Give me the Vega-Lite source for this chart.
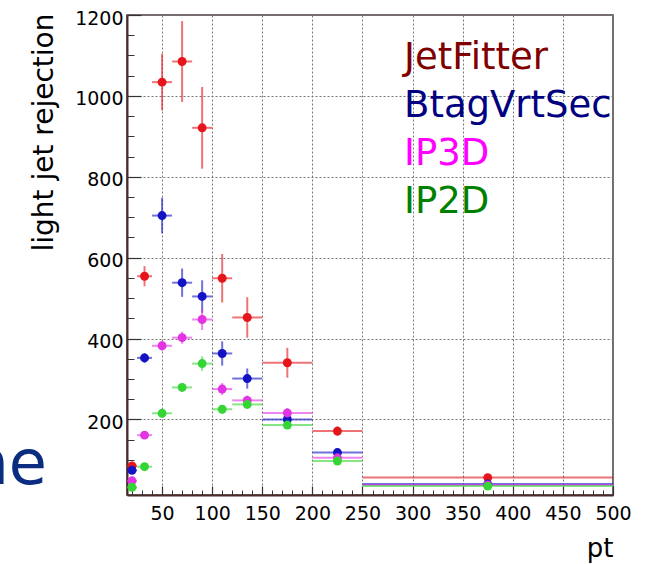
{
  "$schema": "https://vega.github.io/schema/vega-lite/v6.json",
  "width": 486,
  "height": 480,
  "autosize": {"type": "none"},
  "padding": {"left": 127, "top": 15, "right": 32, "bottom": 69},
  "background": "white",
  "config": {
    "view": {"stroke": "#4a3a3a", "strokeWidth": 1.5},
    "font": "DejaVu Sans"
  },
  "title": {
    "text": "ne",
    "orient": "top",
    "anchor": "start",
    "frame": "group",
    "align": "right",
    "baseline": "alphabetic",
    "offset": 0,
    "dx": -80,
    "dy": 537,
    "fontSize": 62,
    "fontWeight": "normal",
    "font": "DejaVu Sans",
    "color": "#0b2d80"
  },
  "data": {
    "values": [
      {"alg": "JetFitter", "pt": 20, "lo": 15, "hi": 25, "y": 85, "yl": 75, "yh": 95},
      {"alg": "JetFitter", "pt": 32.5, "lo": 25, "hi": 40, "y": 554, "yl": 529, "yh": 579},
      {"alg": "JetFitter", "pt": 50, "lo": 40, "hi": 60, "y": 1034, "yl": 964, "yh": 1104},
      {"alg": "JetFitter", "pt": 70, "lo": 60, "hi": 80, "y": 1085, "yl": 985, "yh": 1185},
      {"alg": "JetFitter", "pt": 90, "lo": 80, "hi": 100, "y": 921, "yl": 820, "yh": 1022},
      {"alg": "JetFitter", "pt": 110, "lo": 100, "hi": 120, "y": 549, "yl": 489, "yh": 609},
      {"alg": "JetFitter", "pt": 135, "lo": 120, "hi": 150, "y": 452, "yl": 402, "yh": 502},
      {"alg": "JetFitter", "pt": 175, "lo": 150, "hi": 200, "y": 340, "yl": 303, "yh": 377},
      {"alg": "JetFitter", "pt": 225, "lo": 200, "hi": 250, "y": 171, "yl": 159, "yh": 183},
      {"alg": "JetFitter", "pt": 375, "lo": 250, "hi": 500, "y": 56, "yl": 51, "yh": 61},
      {"alg": "BtagVrtSec", "pt": 20, "lo": 15, "hi": 25, "y": 74, "yl": 66, "yh": 82},
      {"alg": "BtagVrtSec", "pt": 32.5, "lo": 25, "hi": 40, "y": 352, "yl": 340, "yh": 364},
      {"alg": "BtagVrtSec", "pt": 50, "lo": 40, "hi": 60, "y": 704, "yl": 660, "yh": 748},
      {"alg": "BtagVrtSec", "pt": 70, "lo": 60, "hi": 80, "y": 538, "yl": 503, "yh": 573},
      {"alg": "BtagVrtSec", "pt": 90, "lo": 80, "hi": 100, "y": 504, "yl": 464, "yh": 544},
      {"alg": "BtagVrtSec", "pt": 110, "lo": 100, "hi": 120, "y": 363, "yl": 333, "yh": 393},
      {"alg": "BtagVrtSec", "pt": 135, "lo": 120, "hi": 150, "y": 301, "yl": 276, "yh": 326},
      {"alg": "BtagVrtSec", "pt": 175, "lo": 150, "hi": 200, "y": 200, "yl": 188, "yh": 212},
      {"alg": "BtagVrtSec", "pt": 225, "lo": 200, "hi": 250, "y": 118, "yl": 110, "yh": 126},
      {"alg": "BtagVrtSec", "pt": 375, "lo": 250, "hi": 500, "y": 40, "yl": 37, "yh": 43},
      {"alg": "IP3D", "pt": 20, "lo": 15, "hi": 25, "y": 48, "yl": 42, "yh": 54},
      {"alg": "IP3D", "pt": 32.5, "lo": 25, "hi": 40, "y": 161, "yl": 153, "yh": 169},
      {"alg": "IP3D", "pt": 50, "lo": 40, "hi": 60, "y": 382, "yl": 370, "yh": 394},
      {"alg": "IP3D", "pt": 70, "lo": 60, "hi": 80, "y": 402, "yl": 387, "yh": 417},
      {"alg": "IP3D", "pt": 90, "lo": 80, "hi": 100, "y": 447, "yl": 421, "yh": 473},
      {"alg": "IP3D", "pt": 110, "lo": 100, "hi": 120, "y": 275, "yl": 260, "yh": 290},
      {"alg": "IP3D", "pt": 135, "lo": 120, "hi": 150, "y": 247, "yl": 235, "yh": 259},
      {"alg": "IP3D", "pt": 175, "lo": 150, "hi": 200, "y": 216, "yl": 204, "yh": 228},
      {"alg": "IP3D", "pt": 225, "lo": 200, "hi": 250, "y": 105, "yl": 99, "yh": 111},
      {"alg": "IP3D", "pt": 375, "lo": 250, "hi": 500, "y": 38, "yl": 35, "yh": 41},
      {"alg": "IP2D", "pt": 20, "lo": 15, "hi": 25, "y": 32, "yl": 27, "yh": 37},
      {"alg": "IP2D", "pt": 32.5, "lo": 25, "hi": 40, "y": 83, "yl": 77, "yh": 89},
      {"alg": "IP2D", "pt": 50, "lo": 40, "hi": 60, "y": 215, "yl": 205, "yh": 225},
      {"alg": "IP2D", "pt": 70, "lo": 60, "hi": 80, "y": 279, "yl": 269, "yh": 289},
      {"alg": "IP2D", "pt": 90, "lo": 80, "hi": 100, "y": 338, "yl": 320, "yh": 356},
      {"alg": "IP2D", "pt": 110, "lo": 100, "hi": 120, "y": 225, "yl": 215, "yh": 235},
      {"alg": "IP2D", "pt": 135, "lo": 120, "hi": 150, "y": 237, "yl": 227, "yh": 247},
      {"alg": "IP2D", "pt": 175, "lo": 150, "hi": 200, "y": 186, "yl": 178, "yh": 194},
      {"alg": "IP2D", "pt": 225, "lo": 200, "hi": 250, "y": 97, "yl": 92, "yh": 102},
      {"alg": "IP2D", "pt": 375, "lo": 250, "hi": 500, "y": 35, "yl": 33, "yh": 37}
    ]
  },
  "layer": [
    {
      "mark": {"type": "rule", "strokeWidth": 2, "opacity": 0.6},
      "encoding": {
        "x": {
          "field": "lo", "type": "quantitative",
          "scale": {"domain": [15, 500], "nice": false, "zero": false},
          "axis": {
            "orient": "bottom",
            "values": [20,30,40,60,70,80,90,110,120,130,140,160,170,180,190,210,220,230,240,260,270,280,290,310,320,330,340,360,370,380,390,410,420,430,440,460,470,480,490],
            "labels": false, "grid": false, "domain": false, "title": null,
            "tickSize": -5, "tickColor": "#333", "tickWidth": 1
          }
        },
        "x2": {"field": "hi"},
        "y": {
          "field": "y", "type": "quantitative",
          "scale": {"domain": [13, 1200], "nice": false, "zero": false},
          "axis": {
            "orient": "left",
            "values": [50,100,150,250,300,350,450,500,550,650,700,750,850,900,950,1050,1100,1150],
            "labels": false, "grid": false, "domain": false, "title": null,
            "tickSize": -7, "tickColor": "#333", "tickWidth": 1
          }
        },
        "color": {
          "field": "alg", "type": "nominal",
          "scale": {"domain": ["JetFitter", "BtagVrtSec", "IP3D", "IP2D"], "range": ["#e5161b", "#1313c4", "#e234e2", "#36d536"]},
          "legend": {
            "orient": "none", "legendX": 240, "legendY": 24, "title": null,
            "symbolSize": 0, "symbolStrokeWidth": 0, "symbolOpacity": 0, "labelOffset": 0,
            "labelFontSize": 37, "labelFont": "DejaVu Sans", "labelLimit": 0, "rowPadding": 10, "padding": 0,
            "encode": {"labels": {"update": {"fill": {"signal": "datum.value === 'JetFitter' ? '#800000' : datum.value === 'BtagVrtSec' ? '#000080' : datum.value === 'IP3D' ? '#ff00ff' : '#008000'"}}}}
          }
        }
      }
    },
    {
      "mark": {"type": "rule", "strokeWidth": 2, "opacity": 0.6},
      "encoding": {
        "x": {"field": "pt", "type": "quantitative", "axis": null},
        "y": {"field": "yl", "type": "quantitative", "axis": null},
        "y2": {"field": "yh"},
        "color": {
          "field": "alg", "type": "nominal",
          "legend": {
            "orient": "none", "legendX": 240, "legendY": 24, "title": null,
            "symbolSize": 0, "symbolStrokeWidth": 0, "symbolOpacity": 0, "labelOffset": 0,
            "labelFontSize": 37, "labelFont": "DejaVu Sans", "labelLimit": 0, "rowPadding": 10, "padding": 0,
            "encode": {"labels": {"update": {"fill": {"signal": "datum.value === 'JetFitter' ? '#800000' : datum.value === 'BtagVrtSec' ? '#000080' : datum.value === 'IP3D' ? '#ff00ff' : '#008000'"}}}}
          }
        }
      }
    },
    {
      "mark": {"type": "circle", "opacity": 1, "size": 80},
      "encoding": {
        "x": {
          "field": "pt", "type": "quantitative",
          "axis": {
            "orient": "bottom",
            "values": [50,100,150,200,250,300,350,400,450,500],
            "labelFontSize": 19, "labelFont": "DejaVu Sans", "labelColor": "#000",
            "labelFlush": false, "labelOverlap": false, "labelBound": false,
            "labelPadding": 18, "labelBaseline": "top",
            "tickSize": -9, "tickColor": "#333", "tickWidth": 1.2,
            "domain": true, "domainColor": "#4a2a2a", "domainWidth": 2,
            "grid": true, "gridDash": [2, 2], "gridColor": "#777", "gridWidth": 1,
            "title": "pt", "titleFont": "DejaVu Sans", "titleFontSize": 26, "titleFontWeight": "normal", "titleColor": "#000",
            "titleAnchor": "end", "titleAlign": "right", "titleBaseline": "alphabetic", "titleX": 486, "titleY": 61
          }
        },
        "y": {
          "field": "y", "type": "quantitative",
          "axis": {
            "orient": "left",
            "values": [200,400,600,800,1000,1200],
            "format": "d",
            "labelFontSize": 19, "labelFont": "DejaVu Sans", "labelColor": "#000",
            "labelFlush": false, "labelOverlap": false, "labelBound": false,
            "labelPadding": 18, "labelBaseline": "middle", "labelOffset": 3,
            "tickSize": -14, "tickColor": "#333", "tickWidth": 1.2,
            "domain": true, "domainColor": "#4a2a2a", "domainWidth": 2,
            "grid": true, "gridDash": [2, 2], "gridColor": "#777", "gridWidth": 1,
            "title": "light jet rejection", "titleFont": "DejaVu Sans", "titleFontSize": 28, "titleFontWeight": "normal", "titleColor": "#000",
            "titleAngle": 270, "titleAnchor": "end", "titleAlign": "right", "titleBaseline": "alphabetic", "titleX": -75, "titleY": -2
          }
        },
        "color": {
          "field": "alg", "type": "nominal",
          "legend": {
            "orient": "none", "legendX": 240, "legendY": 24, "title": null,
            "symbolSize": 0, "symbolStrokeWidth": 0, "symbolOpacity": 0, "labelOffset": 0,
            "labelFontSize": 37, "labelFont": "DejaVu Sans", "labelLimit": 0, "rowPadding": 10, "padding": 0,
            "encode": {"labels": {"update": {"fill": {"signal": "datum.value === 'JetFitter' ? '#800000' : datum.value === 'BtagVrtSec' ? '#000080' : datum.value === 'IP3D' ? '#ff00ff' : '#008000'"}}}}
          }
        }
      }
    }
  ],
  "resolve": {"axis": {"x": "independent", "y": "independent"}}
}
